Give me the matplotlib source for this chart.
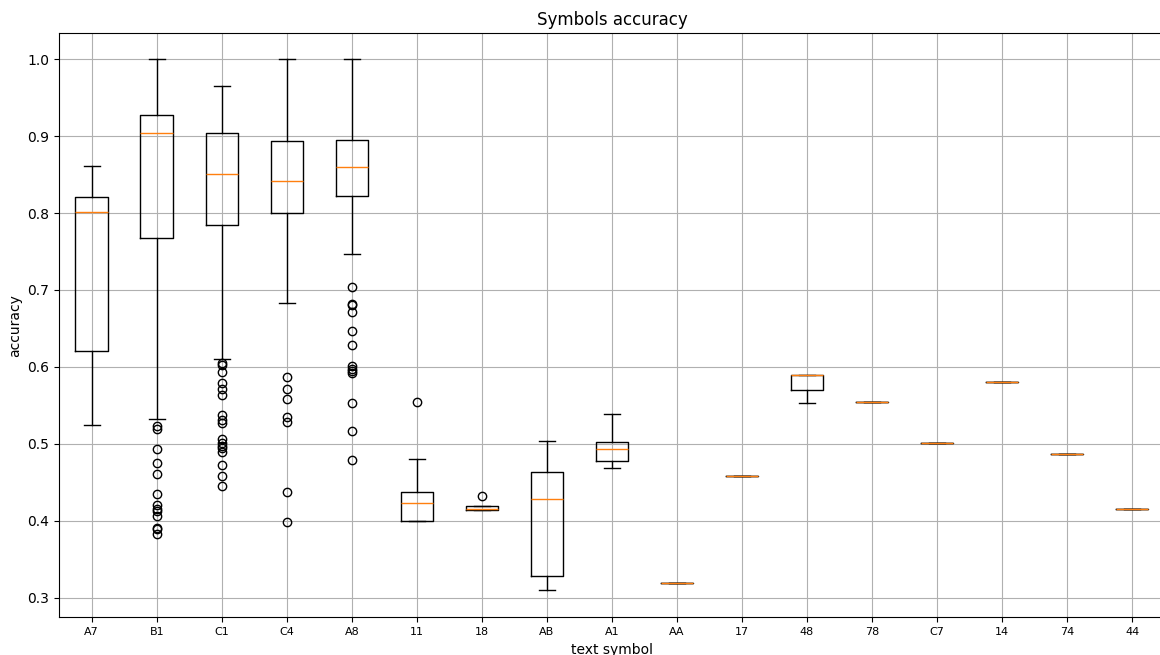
import matplotlib
matplotlib.use("Agg")
import matplotlib.pyplot as plt

symbols = ["A7", "B1", "C1", "C4", "A8", "11", "18", "AB", "A1", "AA",
           "17", "48", "78", "C7", "14", "74", "44"]

whislo = [0.525, 0.532, 0.611, 0.683, 0.747, 0.400, 0.414, 0.310, 0.469, 0.3195,
          0.458, 0.553, 0.555, 0.501, 0.581, 0.487, 0.415]
q1 = [0.621, 0.767, 0.785, 0.800, 0.822, 0.400, 0.414, 0.329, 0.478, 0.3195,
      0.458, 0.570, 0.555, 0.501, 0.581, 0.487, 0.415]
med = [0.801, 0.904, 0.851, 0.841, 0.860, 0.423, 0.415, 0.428, 0.493, 0.3195,
       0.458, 0.589, 0.555, 0.501, 0.581, 0.487, 0.415]
q3 = [0.821, 0.927, 0.904, 0.893, 0.895, 0.438, 0.419, 0.464, 0.502, 0.3195,
      0.458, 0.589, 0.555, 0.501, 0.581, 0.487, 0.415]
whishi = [0.861, 1.000, 0.965, 1.000, 1.000, 0.480, 0.419, 0.504, 0.539, 0.3195,
          0.458, 0.589, 0.555, 0.501, 0.581, 0.487, 0.415]

fliers_B1 = [0.523, 0.520, 0.494, 0.475, 0.461, 0.435, 0.421, 0.415, 0.413,
             0.406, 0.391, 0.389, 0.383]
fliers_C1 = [0.605, 0.602, 0.594, 0.579, 0.571, 0.564, 0.537, 0.531, 0.527,
             0.507, 0.501, 0.498, 0.495, 0.490, 0.473, 0.459, 0.445]
fliers_C4 = [0.587, 0.571, 0.558, 0.535, 0.529, 0.438, 0.399]
fliers_A8 = [0.704, 0.682, 0.680, 0.671, 0.647, 0.629, 0.601, 0.598, 0.595,
             0.592, 0.553, 0.517, 0.479]
fliers_11 = [0.555]
fliers_18 = [0.432]
fliers = [[], fliers_B1, fliers_C1, fliers_C4, fliers_A8, fliers_11, fliers_18,
          [], [], [], [], [], [], [], [], [], []]

stats = []
for i, name in enumerate(symbols):
    stats.append(dict(label=name, whislo=whislo[i], q1=q1[i], med=med[i],
                      q3=q3[i], whishi=whishi[i], fliers=fliers[i]))

fig = plt.figure(figsize=(11.6, 6.55), dpi=100)
ax = fig.add_axes([59.2 / 1160, 37.7 / 655, (1164.7 - 59.2) / 1160, (617.3 - 33.3) / 655])
ax.bxp(stats, positions=range(1, len(symbols) + 1), showfliers=True)
ax.set_xlim(0.5, len(symbols) + 0.5)
ax.set_ylim(0.2749, 1.0334)
ax.grid(True)
ax.set_axisbelow(True)
ax.tick_params(axis="x", labelsize=8)
ax.set_title("Symbols accuracy")
ax.set_xlabel("text symbol")
ax.set_ylabel("accuracy")
fig.savefig("out.png", dpi=100)
